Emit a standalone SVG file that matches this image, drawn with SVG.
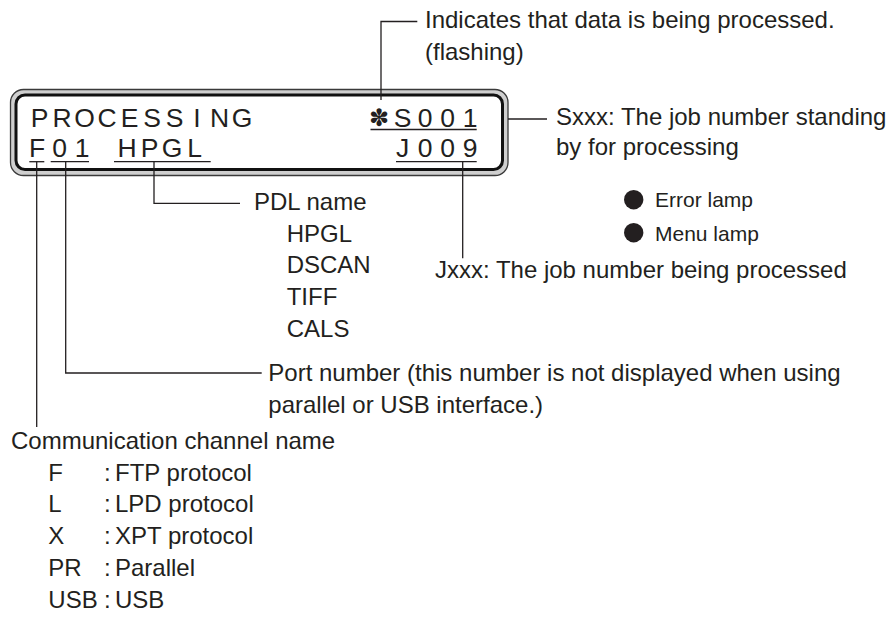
<svg xmlns="http://www.w3.org/2000/svg" width="894" height="618" viewBox="0 0 894 618">
<style>
text{font-family:"Liberation Sans",Arial,sans-serif;fill:#231f20}
.t{font-size:24px}
.s{font-size:21px}
.lcd{font-size:26.5px;text-anchor:middle}
.ln{fill:none;stroke:#231f20;stroke-width:1.3}
.ul{fill:none;stroke:#231f20;stroke-width:1.3}
</style>
<rect width="894" height="618" fill="#ffffff"/>
<g id="lcd">
<rect x="10.5" y="89.5" width="497.5" height="86" rx="13" fill="#cfcfcf" stroke="#3a3a3a" stroke-width="1.3"/>
<rect x="16" y="95" width="486.5" height="74.5" rx="9" fill="#ffffff" stroke="#111111" stroke-width="3"/>
<text class="lcd" x="39.5 62 84.5 107 129.5 152 174.5 197 219.5 242" y="126.7">PROCESSING</text>
<text x="379" y="126" text-anchor="middle" style="font-family:'DejaVu Sans',sans-serif;font-size:24px">✽</text>
<text class="lcd" x="402.5 425 447.5 470" y="126.7">S001</text>
<text class="lcd" x="37 59.5 82" y="157.3">F01</text>
<text class="lcd" x="127 149.5 172 194.5" y="157.3">HPGL</text>
<text class="lcd" x="402.5 425 447.5 470" y="157.3">J009</text>
<line class="ul" x1="370.5" y1="129.5" x2="476.7" y2="129.5"/>
<line class="ul" x1="29.3" y1="161.7" x2="44.3" y2="161.7"/>
<line class="ul" x1="50.7" y1="161.7" x2="89" y2="161.7"/>
<line class="ul" x1="114" y1="161.7" x2="210.7" y2="161.7"/>
<line class="ul" x1="396" y1="161.7" x2="476.7" y2="161.7"/>
</g>
<g id="connectors">
<polyline class="ln" points="381,100 381,21.5 417.3,21.5"/>
<line class="ln" x1="508" y1="119" x2="547" y2="119"/>
<line class="ln" x1="462.7" y1="161.7" x2="462.7" y2="258.3"/>
<polyline class="ln" points="154,161.7 154,203.3 240,203.3"/>
<polyline class="ln" points="65.7,161.7 65.7,373 261.7,373"/>
<line class="ln" x1="36.7" y1="161.7" x2="36.7" y2="427"/>
</g>
<g id="flashing">
<text class="t" x="425" y="27.5">Indicates that data is being processed.</text>
<text class="t" x="425" y="59.5">(flashing)</text>
</g>
<g id="sxxx">
<text class="t" x="556" y="124.5">Sxxx: The job number standing</text>
<text class="t" x="556" y="155">by for processing</text>
</g>
<g id="lamps">
<circle cx="633.7" cy="199.7" r="9.7" fill="#231f20"/>
<text class="s" x="655" y="207">Error lamp</text>
<circle cx="633.7" cy="232.7" r="9.7" fill="#231f20"/>
<text class="s" x="655" y="240.5">Menu lamp</text>
</g>
<g id="jxxx">
<text class="t" x="435" y="278">Jxxx: The job number being processed</text>
</g>
<g id="pdl">
<text class="t" x="254" y="210">PDL name</text>
<text class="t" x="286.7" y="241.7">HPGL</text>
<text class="t" x="286.7" y="273.3">DSCAN</text>
<text class="t" x="286.7" y="305">TIFF</text>
<text class="t" x="286.7" y="336.7">CALS</text>
</g>
<g id="port">
<text class="t" x="268.3" y="381">Port number (this number is not displayed when using</text>
<text class="t" x="268.3" y="412.7">parallel or USB interface.)</text>
</g>
<g id="channel">
<text class="t" x="11" y="449">Communication channel name</text>
<text class="t" x="48.3" y="480.7">F</text>
<text class="t" x="104" y="480.7">:</text>
<text class="t" x="115" y="480.7">FTP protocol</text>
<text class="t" x="48.3" y="512.4">L</text>
<text class="t" x="104" y="512.4">:</text>
<text class="t" x="115" y="512.4">LPD protocol</text>
<text class="t" x="48.3" y="544.1">X</text>
<text class="t" x="104" y="544.1">:</text>
<text class="t" x="115" y="544.1">XPT protocol</text>
<text class="t" x="48.3" y="575.8">PR</text>
<text class="t" x="104" y="575.8">:</text>
<text class="t" x="115" y="575.8">Parallel</text>
<text class="t" x="48.3" y="607.5">USB</text>
<text class="t" x="104" y="607.5">:</text>
<text class="t" x="115" y="607.5">USB</text>
</g>
</svg>
